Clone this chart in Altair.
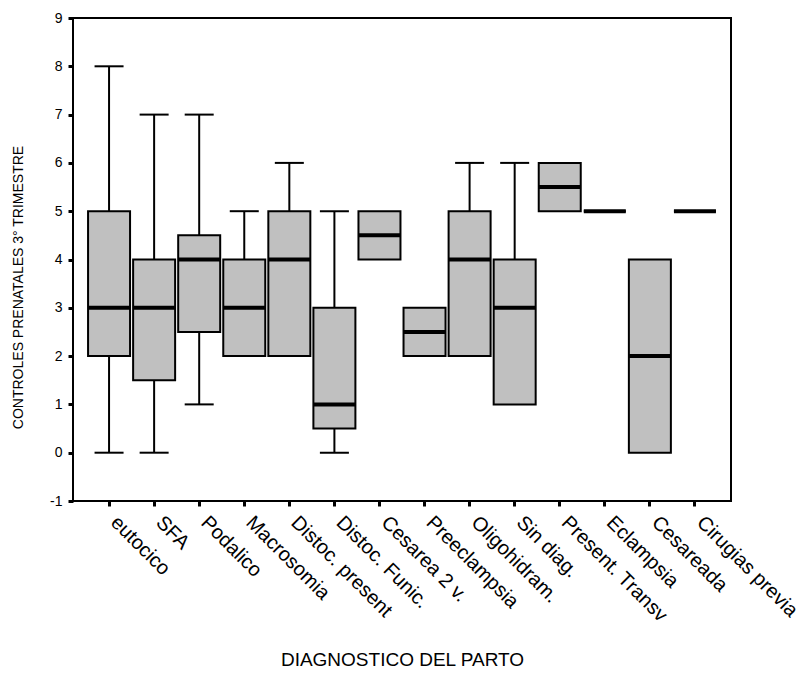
import altair as alt
import pandas as pd

cats = ["eutocico", "SFA", "Podalico", "Macrosomia", "Distoc. present", "Distoc. Funic.",
        "Cesarea 2 v.", "Preeclampsia", "Oligohidram.", "Sin diag.", "Present. Transv",
        "Eclampsia", "Cesareada", "Cirugias previa"]
mins = [0, 0, 1, 2, 2, 0, 4, 2, 2, 1, 5, 5, 0, 5]
q1s = [2, 1.5, 2.5, 2, 2, 0.5, 4, 2, 2, 1, 5, 5, 0, 5]
meds = [3, 3, 4, 3, 4, 1, 4.5, 2.5, 4, 3, 5.5, 5, 2, 5]
q3s = [5, 4, 4.5, 4, 5, 3, 5, 3, 5, 4, 6, 5, 4, 5]
maxs = [8, 7, 7, 5, 6, 5, 5, 3, 6, 6, 6, 5, 4, 5]
yticks = [-1, 0, 1, 2, 3, 4, 5, 6, 7, 8, 9]

df = pd.DataFrame({"cat": cats, "lo": mins, "q1": q1s, "med": meds, "q3": q3s, "hi": maxs})

FONT = "Liberation Sans"
W, H = 658, 483

x = alt.X("cat:N", sort=cats,
          scale=alt.Scale(type="band", paddingInner=0, paddingOuter=0.3),
          axis=alt.Axis(title="DIAGNOSTICO DEL PARTO", labelAngle=45, labelAlign="left",
                        labelBaseline="middle", labelPadding=13, labelOffset=5,
                        labelFontSize=20, labelFont=FONT, labelColor="black",
                        tickSize=5, tickWidth=3, tickColor="black", domain=False,
                        titleFont=FONT, titleFontSize=19, titleFontWeight="normal",
                        titleColor="black", titleY=158, titleBaseline="middle",
                        labelOverlap=False))
yscale = alt.Scale(domain=[-1, 9], nice=False, zero=False)
yaxis = alt.Axis(title="CONTROLES PRENATALES 3° TRIMESTRE", values=yticks,
                 labelExpr="'' + datum.value",
                 tickSize=5, tickWidth=3, tickColor="black", domain=False, grid=False,
                 labelFontSize=14, labelFont=FONT, labelColor="black", labelPadding=6,
                 titleFont=FONT, titleFontSize=14, titleFontWeight="normal", titleColor="black",
                 titleX=-55, titleY=269, titleAngle=-90, titleAlign="center",
                 titleBaseline="middle")

base = alt.Chart(df)

whisk_lo = base.mark_rule(color="black", strokeWidth=2).encode(
    x=x, y=alt.Y("lo:Q", scale=yscale, axis=yaxis), y2="q1:Q")
whisk_hi = base.mark_rule(color="black", strokeWidth=2).encode(
    x=x, y=alt.Y("q3:Q", scale=yscale), y2="hi:Q")
cap_lo = base.transform_filter("datum.lo < datum.q1").mark_tick(
    color="black", size=29, thickness=2, opacity=1).encode(x=x, y=alt.Y("lo:Q", scale=yscale))
cap_hi = base.transform_filter("datum.hi > datum.q3").mark_tick(
    color="black", size=29, thickness=2, opacity=1).encode(x=x, y=alt.Y("hi:Q", scale=yscale))
box = base.mark_bar(size=42, fill="#c0c0c0", stroke="black", strokeWidth=2).encode(
    x=x, y=alt.Y("q1:Q", scale=yscale), y2="q3:Q")
median = base.mark_tick(color="black", size=42, thickness=4, opacity=1).encode(
    x=x, y=alt.Y("med:Q", scale=yscale))

chart = alt.layer(whisk_lo, whisk_hi, cap_lo, cap_hi, box, median).properties(
    width=W, height=H,
    autosize=alt.AutoSizeParams(type="none"),
    padding={"left": 73, "top": 18, "right": 76, "bottom": 183},
    background="white",
).configure_view(stroke="black", strokeWidth=2)

chart.save("out.html", embed_options={"renderer": "svg", "actions": False})
